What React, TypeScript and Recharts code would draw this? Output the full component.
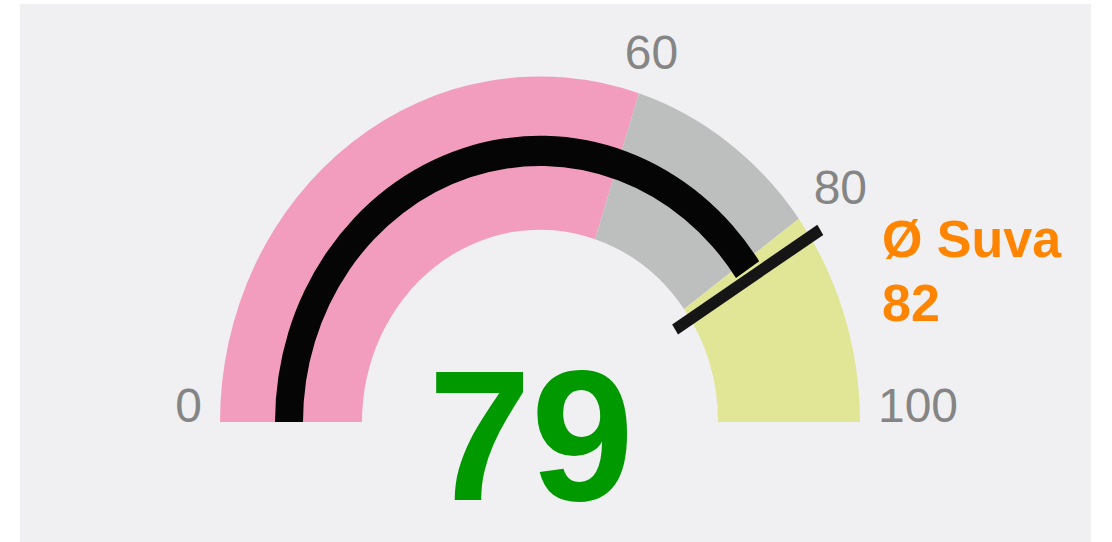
import React from 'react';
import { PieChart, Pie, Cell } from 'recharts';

// gauge bands: 0-60 pink, 60-80 grey, 80-100 yellow
const BAND_NAMES = ['low', 'mid', 'high'];
const BAND_VALUES = [60, 20, 20];
const BAND_COLORS = ['#f29dbe', '#bdbebe', '#e1e697'];
const TICK_LABELS = ['0', '60', '80', '100'];

const SCORE = 79;
// in the picture the black arc runs on up to the average marker
const SCORE_ARC_END = 81;
const MAX = 100;
const AVG_LABEL = 'Ø Suva';
const AVG = 82;

// the reference is a little taller than wide
const SY = 1.08;
const W = 1112;
const H = 542 / SY;
const CX = 540;
const CY = 422 / SY;

const FONT = '"Liberation Sans", Arial, Helvetica, sans-serif';
const RAD = Math.PI / 180;

const bandData = BAND_NAMES.map((name, i) => ({ name, value: BAND_VALUES[i] }));
const scoreData = [
  { name: 'score', value: SCORE_ARC_END },
  { name: 'rest', value: MAX - SCORE_ARC_END },
];
const avgData = [
  { name: 'avg', value: AVG },
  { name: 'rest', value: MAX - AVG },
];

// text that should not be stretched by the outer scaleY
function FlatText({ x, y, children, ...rest }: any) {
  return (
    <g transform={`translate(${x} ${y}) scale(1 ${1 / SY})`}>
      <text x={0} y={0} fontFamily={FONT} {...rest}>
        {children}
      </text>
    </g>
  );
}

function tickAt(key: string, label: string, angle: number, cx: number, cy: number, r: number) {
  const fs = 48;
  const cos = Math.cos(angle * RAD);
  const sin = Math.sin(angle * RAD);
  if (Math.abs(sin) < 0.01) {
    return (
      <FlatText key={key} x={cx + cos * (r + 18)} y={cy} fontSize={fs} fill="#858585"
        textAnchor={cos > 0 ? 'start' : 'end'}>
        {label}
      </FlatText>
    );
  }
  const hw = (label.length * 0.556 * fs) / 2;
  const hh = (0.36 * fs) / SY;
  const d = Math.min(hw / Math.abs(cos), hh / Math.abs(sin));
  const rr = r + 24 + d;
  return (
    <FlatText key={key} x={cx + rr * cos} y={cy - rr * sin} fontSize={fs} fill="#858585"
      textAnchor="middle" dy="0.36em">
      {label}
    </FlatText>
  );
}

const renderTicks = (p: any) => {
  const { cx, cy, startAngle, endAngle, outerRadius, index } = p;
  return (
    <g>
      {index === 0 && tickAt('s', TICK_LABELS[0], startAngle, cx, cy, outerRadius)}
      {tickAt('e', TICK_LABELS[index + 1], endAngle, cx, cy, outerRadius)}
    </g>
  );
};

const renderScore = (p: any) => {
  if (p.index !== 0) return null;
  return (
    <FlatText x={p.cx - 9} y={p.cy + 72} fontSize={185} fontWeight="bold" fill="#009a00"
      textAnchor="middle">
      {SCORE}
    </FlatText>
  );
};

const renderAvg = (p: any) => {
  if (p.index !== 0) return null;
  const { cx, cy, endAngle, innerRadius, outerRadius } = p;
  const cos = Math.cos(endAngle * RAD);
  const sin = Math.sin(endAngle * RAD);
  return (
    <g>
      <line
        x1={cx + innerRadius * cos}
        y1={cy - innerRadius * sin}
        x2={cx + outerRadius * cos}
        y2={cy - outerRadius * sin}
        stroke="#151515"
        strokeWidth={11}
      />
      <FlatText x={cx + 342} y={cy - 153} fontSize={52} fontWeight="bold" fill="#ff8500">
        {AVG_LABEL}
      </FlatText>
      <FlatText x={cx + 342} y={cy - 93.5} fontSize={52} fontWeight="bold" fill="#ff8500">
        {AVG}
      </FlatText>
    </g>
  );
};

export default function App() {
  return (
    <div style={{ position: 'absolute', left: 0, top: 0, width: W, height: 542, background: '#fff', overflow: 'hidden' }}>
      <div style={{ position: 'absolute', left: 20, top: 4, width: 1071, height: 538, background: '#f0f0f2' }} />
      <div style={{ position: 'absolute', left: 0, top: 0, transform: `scaleY(${SY})`, transformOrigin: '0 0' }}>
        <PieChart width={W} height={H} margin={{ top: 0, right: 0, bottom: 0, left: 0 }}>
          <Pie
            data={bandData}
            dataKey="value"
            cx={CX}
            cy={CY}
            startAngle={180}
            endAngle={0}
            innerRadius={178}
            outerRadius={320}
            stroke="none"
            label={renderTicks}
            labelLine={false}
            isAnimationActive={false}
          >
            {bandData.map((_, i) => (
              <Cell key={i} fill={BAND_COLORS[i]} />
            ))}
          </Pie>
          <Pie
            data={scoreData}
            dataKey="value"
            cx={CX}
            cy={CY}
            startAngle={180}
            endAngle={0}
            innerRadius={237}
            outerRadius={265}
            stroke="none"
            label={renderScore}
            labelLine={false}
            isAnimationActive={false}
          >
            <Cell fill="#050505" />
            <Cell fill="transparent" />
          </Pie>
          <Pie
            data={avgData}
            dataKey="value"
            cx={CX}
            cy={CY}
            startAngle={180}
            endAngle={0}
            innerRadius={160}
            outerRadius={332}
            stroke="none"
            label={renderAvg}
            labelLine={false}
            isAnimationActive={false}
          >
            <Cell fill="transparent" />
            <Cell fill="transparent" />
          </Pie>
        </PieChart>
      </div>
    </div>
  );
}
